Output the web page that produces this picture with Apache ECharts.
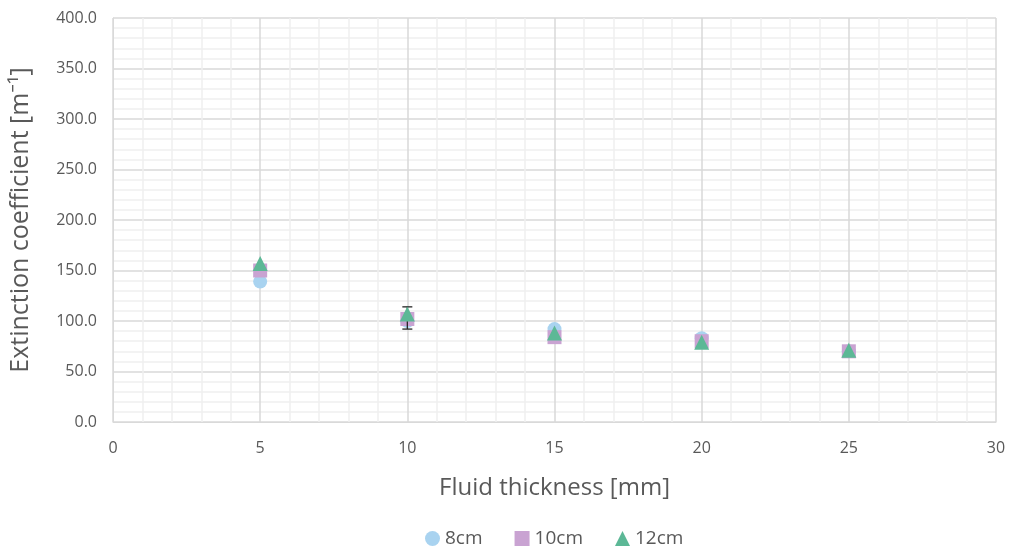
<!DOCTYPE html>
<html>
<head>
<meta charset="utf-8">
<script src="https://cdn.jsdelivr.net/npm/echarts@6/dist/echarts.min.js"></script>
<style>
  html, body { margin: 0; padding: 0; background: #fff; }
  #chart { width: 1011px; height: 546px; }
</style>
</head>
<body>
<div id="chart"></div>
<script>
// fluid thickness [mm]
const thickness = [5, 10, 15, 20, 25];
// extinction coefficient per distance
const s8cm = [139, 100, 92, 83, 70];
const s10cm = [150, 102, 84, 80, 70];
const s12cm = [157, 107, 88, 79, 71];
// error bar (only visible one, at 10 mm)
const errX = [10];
const errLow = [92];
const errHigh = [114];

const myChart = echarts.init(document.getElementById('chart'));
const fontFamily = '"Open Sans", "Noto Sans", sans-serif';

const pairs = (ys) => thickness.map((x, i) => [x, ys[i]]);

const option = {
  animation: false,
  grid: {
    left: 112,
    right: 15,
    top: 18,
    bottom: 124,
  },
  legend: {
    top: 524,
    left: 420,
    itemWidth: 15,
    itemHeight: 15,
    itemGap: 32,
    textStyle: { fontFamily, fontSize: 19, color: '#595959' },
    data: [
      { name: '8cm', icon: 'circle' },
      { name: '10cm', icon: 'rect' },
      { name: '12cm', icon: 'triangle' },
    ],
  },
  xAxis: {
    type: 'value',
    min: 0,
    max: 30,
    interval: 5,
    name: 'Fluid thickness [mm]',
    nameLocation: 'middle',
    nameGap: 54,
    nameTextStyle: { fontFamily, fontSize: 24, color: '#595959' },
    axisLine: { show: true, lineStyle: { color: '#d9d9d9' } },
    axisTick: { show: false },
    axisLabel: { fontFamily, fontSize: 16, color: '#595959', margin: 18 },
    splitLine: { show: true, lineStyle: { color: '#d9d9d9', width: 1.5 } },
    minorTick: { show: false, splitNumber: 5 },
    minorSplitLine: { show: true, lineStyle: { color: '#f0f0f0', width: 1.5 } },
  },
  yAxis: {
    type: 'value',
    min: 0,
    max: 400,
    interval: 50,
    name: 'Extinction coefficient [m⁻¹]',
    nameLocation: 'middle',
    nameGap: 80,
    nameTextStyle: { fontFamily, fontSize: 25, color: '#595959' },
    axisLine: { show: true, lineStyle: { color: '#d9d9d9' } },
    axisTick: { show: false },
    axisLabel: {
      fontFamily,
      fontSize: 16,
      color: '#595959',
      margin: 16,
      formatter: (v) => v.toFixed(1),
    },
    splitLine: { show: true, lineStyle: { color: '#d9d9d9', width: 1.5 } },
    minorTick: { show: false, splitNumber: 5 },
    minorSplitLine: { show: true, lineStyle: { color: '#f0f0f0', width: 1.5 } },
  },
  series: [
    {
      name: '8cm',
      type: 'scatter',
      symbol: 'circle',
      symbolSize: 14,
      itemStyle: { color: '#a9d3f0', opacity: 1 },
      data: pairs(s8cm),
      z: 2,
    },
    {
      name: '10cm',
      type: 'scatter',
      symbol: 'rect',
      symbolSize: 14,
      itemStyle: { color: '#c9a3d2', opacity: 1 },
      data: pairs(s10cm),
      z: 3,
    },
    {
      type: 'custom',
      name: 'err',
      z: 4,
      silent: true,
      data: errX.map((x, i) => [x, errLow[i], errHigh[i]]),
      renderItem(params, api) {
        const lo = api.coord([api.value(0), api.value(1)]);
        const hi = api.coord([api.value(0), api.value(2)]);
        const w = 5;
        const style = { stroke: '#262626', lineWidth: 1.3 };
        return {
          type: 'group',
          children: [
            { type: 'line', shape: { x1: lo[0], y1: lo[1], x2: hi[0], y2: hi[1] }, style },
            { type: 'line', shape: { x1: lo[0] - w, y1: lo[1], x2: lo[0] + w, y2: lo[1] }, style },
            { type: 'line', shape: { x1: hi[0] - w, y1: hi[1], x2: hi[0] + w, y2: hi[1] }, style },
          ],
        };
      },
    },
    {
      name: '12cm',
      type: 'scatter',
      symbol: 'triangle',
      symbolSize: 15,
      itemStyle: { color: '#5cb896', opacity: 1 },
      data: pairs(s12cm),
      z: 5,
    },
  ],
};

myChart.setOption(option);
</script>
</body>
</html>
